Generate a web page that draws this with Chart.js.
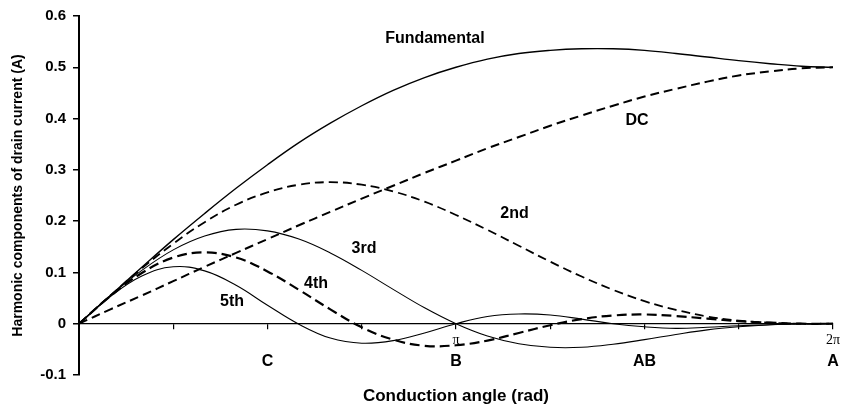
<!DOCTYPE html>
<html>
<head>
<meta charset="utf-8">
<script src="https://cdn.jsdelivr.net/npm/chart.js@4.4.1/dist/chart.umd.min.js"></script>
<style>
    body { margin: 0; background: #fff; }
    #wrap { width: 843px; height: 412px; }
</style>
</head>
<body>
<div id="wrap"><canvas id="chartHarmonics"></canvas></div>
<script>
// conduction angle (rad), steps of pi/12
const angle = [0, 0.2618, 0.5236, 0.7854, 1.0472, 1.3090, 1.5708, 1.8326, 2.0944, 2.3562, 2.6180, 2.8798,
    3.1416, 3.4034, 3.6652, 3.9270, 4.1888, 4.4506, 4.7124, 4.9742, 5.2360, 5.4978, 5.7596, 6.0214, 6.2832];

const fundamental = [0, 0.055, 0.110, 0.164, 0.215, 0.264, 0.310, 0.353, 0.391, 0.425, 0.455, 0.480,
    0.500, 0.516, 0.527, 0.533, 0.536, 0.536, 0.533, 0.527, 0.520, 0.513, 0.507, 0.502, 0.500];
const dc = [0, 0.028, 0.055, 0.083, 0.111, 0.138, 0.165, 0.192, 0.218, 0.244, 0.269, 0.294,
    0.318, 0.342, 0.364, 0.386, 0.406, 0.425, 0.443, 0.458, 0.472, 0.484, 0.492, 0.498, 0.500];
const second = [0, 0.055, 0.108, 0.156, 0.198, 0.232, 0.256, 0.271, 0.276, 0.271, 0.258, 0.238,
    0.212, 0.183, 0.152, 0.121, 0.092, 0.066, 0.044, 0.027, 0.014, 0.006, 0.002, 0.000, 0];
const third = [0, 0.055, 0.104, 0.144, 0.171, 0.184, 0.181, 0.165, 0.138, 0.104, 0.067, 0.031,
    0, -0.024, -0.039, -0.046, -0.046, -0.040, -0.031, -0.021, -0.012, -0.006, -0.002, 0.000, 0];
const fourth = [0, 0.054, 0.099, 0.129, 0.139, 0.129, 0.102, 0.066, 0.028, -0.007, -0.031, -0.043,
    -0.042, -0.033, -0.018, -0.003, 0.009, 0.016, 0.018, 0.015, 0.010, 0.005, 0.002, 0.000, 0];
const fifth = [0, 0.053, 0.093, 0.111, 0.103, 0.075, 0.036, -0.001, -0.028, -0.038, -0.033, -0.018,
    0, 0.014, 0.019, 0.017, 0.009, 0.000, -0.006, -0.009, -0.007, -0.004, -0.002, 0.000, 0];

// tick labels on the zero line (every pi/4)
const axisTickLabels = ['', '', '', '', 'π', '', '', '', '2π'];
// class of operation letters
const regionLabels = ['C', 'B', 'AB', 'A'];
const regionAngles = [Math.PI / 2, Math.PI, 3 * Math.PI / 2, 2 * Math.PI];

const curveNames = ['Fundamental', 'DC', '2nd', '3rd', '4th', '5th'];

Chart.defaults.font.family = '"Liberation Sans", Arial, sans-serif';
Chart.defaults.color = '#000';

function pts(arr) {
    return angle.map(function (a, i) { return {x: a, y: arr[i]}; });
}

function line(label, arr, width, dash) {
    return {
        label: label,
        data: pts(arr),
        borderColor: '#000',
        borderWidth: width,
        borderDash: dash,
        pointRadius: 0,
        fill: false,
        tension: 0.4
    };
}

// text next to each curve
const curveLabels = {
    id: 'curveLabels',
    afterDatasetsDraw(chart) {
        const ctx = chart.ctx;
        const sx = chart.scales.x, sy = chart.scales.y;
        const at = [[2.966, 0.556], [4.65, 0.396], [3.63, 0.215], [2.375, 0.147], [1.975, 0.078], [1.275, 0.043]];
        ctx.save();
        ctx.font = 'bold 16px "Liberation Sans", Arial, sans-serif';
        ctx.fillStyle = '#000';
        ctx.textAlign = 'center';
        ctx.textBaseline = 'middle';
        curveNames.forEach(function (name, i) {
            ctx.fillText(name, sx.getPixelForValue(at[i][0]), sy.getPixelForValue(at[i][1]));
        });
        ctx.restore();
    }
};

const ctx = document.getElementById('chartHarmonics');
const data = {
    datasets: [
        line('Fundamental', fundamental, 1.4, []),
        line('DC', dc, 2, [9, 5]),
        line('2nd', second, 1.8, [9, 5]),
        line('3rd', third, 1.1, []),
        line('4th', fourth, 2.2, [10, 5]),
        line('5th', fifth, 1.1, [])
    ]
};
const config = {
    type: 'line',
    data: data,
    plugins: [curveLabels],
    options: {
        responsive: true,
        maintainAspectRatio: false,
        animation: false,
        layout: {
            padding: {left: 6, right: 10, top: 13, bottom: 3}
        },
        plugins: {
            legend: {display: false},
            tooltip: {enabled: false}
        },
        scales: {
            x: {
                type: 'linear',
                position: 'bottom',
                min: 0,
                max: 2 * Math.PI,
                grid: {display: false, drawTicks: false},
                border: {display: false},
                ticks: {display: false},
                title: {
                    display: true,
                    text: 'Conduction angle (rad)',
                    font: {size: 17, weight: 'bold'},
                    padding: {top: 2, bottom: 2}
                },
                afterFit: function (s) { s.height = 34; }
            },
            xz: {
                type: 'linear',
                axis: 'x',
                position: {y: 0},
                min: 0,
                max: 2 * Math.PI,
                afterBuildTicks: function (s) {
                    s.ticks = axisTickLabels.map(function (t, k) { return {value: k * Math.PI / 4}; });
                },
                grid: {drawOnChartArea: false, color: '#000', lineWidth: 1.2, tickLength: 5},
                border: {color: '#000', width: 1.2},
                ticks: {
                    autoSkip: false,
                    maxRotation: 0,
                    padding: 3,
                    font: {family: '"Liberation Serif", "DejaVu Serif", serif', size: 14},
                    callback: function (v, i) { return axisTickLabels[i]; }
                }
            },
            xl: {
                type: 'linear',
                axis: 'x',
                position: {y: -0.055},
                min: 0,
                max: 2 * Math.PI,
                afterBuildTicks: function (s) {
                    s.ticks = regionAngles.map(function (v) { return {value: v}; });
                },
                grid: {display: false, drawTicks: false},
                border: {display: false},
                ticks: {
                    autoSkip: false,
                    maxRotation: 0,
                    padding: 0,
                    font: {size: 16, weight: 'bold'},
                    callback: function (v, i) { return regionLabels[i]; }
                }
            },
            y: {
                min: -0.1,
                max: 0.6,
                grid: {drawOnChartArea: false, color: '#000', lineWidth: 1.5, tickLength: 6},
                border: {color: '#000', width: 2},
                ticks: {
                    stepSize: 0.1,
                    padding: 7,
                    font: {size: 15, weight: 'bold'},
                    callback: function (v) { return String(Math.round(v * 10) / 10); }
                },
                title: {
                    display: true,
                    text: 'Harmonic components of drain current (A)',
                    font: {size: 14, weight: 'bold'},
                    padding: {top: 4, bottom: 4}
                },
                afterFit: function (s) { s.width = 73; }
            }
        }
    }
};
const myChart = new Chart(ctx, config);
</script>
</body>
</html>
